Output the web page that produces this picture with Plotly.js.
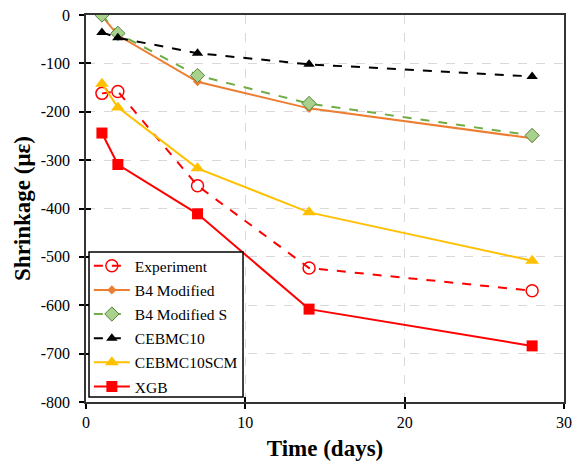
<!DOCTYPE html>
<html><head><meta charset="utf-8">
<script src="https://cdn.plot.ly/plotly-3.0.1.min.js"></script>
<style>html,body{margin:0;padding:0;background:#fff}</style>
</head><body>
<div id="chart" style="width:587px;height:473px"></div>
<script>
const days = [1, 2, 7, 14, 28];
const experiment = [-162, -158, -353, -523, -570];
const b4Modified = [-2, -42, -138, -193, -255];
const b4ModifiedS = [0, -38, -125, -183, -249];
const cebmc10 = [-36, -47, -79, -102, -127];
const cebmc10scm = [-142, -191, -317, -408, -508];
const xgb = [-244, -309, -411, -608, -684];
const yTickVals = [0, -100, -200, -300, -400, -500, -600, -700, -800];
const yTickLabels = ['0', '-100', '-200', '-300', '-400', '-500', '-600', '-700', '-800'];
const xTickVals = [0, 10, 20, 30];
const xTickLabels = ['0', '10', '20', '30'];

const traces = [
  {x: days, y: experiment, name: 'Experiment', legendgroup: 'a', mode: 'lines+markers',
   line: {color: '#FF0000', width: 2, dash: 'dash'},
   marker: {symbol: 'circle-open', size: 12, color: '#FF0000', line: {width: 1.5}}},
  {x: days, y: b4Modified, name: 'B4 Modified', legendgroup: 'b', mode: 'lines+markers',
   line: {color: '#ED7D31', width: 2},
   marker: {symbol: 'diamond', size: 7, color: '#ED7D31'}},
  {x: days, y: b4ModifiedS, name: 'B4 Modified S', legendgroup: 'c', mode: 'lines+markers',
   line: {color: '#70AD47', width: 2, dash: 'dash'},
   marker: {symbol: 'diamond', size: 11, color: '#A9D18E', line: {color: '#548235', width: 1}}},
  {x: days, y: cebmc10, name: 'CEBMC10', legendgroup: 'd', mode: 'lines+markers',
   line: {color: '#000000', width: 2, dash: 'dash'},
   marker: {symbol: 'triangle-up', size: 10, color: '#000000'}},
  {x: days, y: cebmc10scm, name: 'CEBMC10SCM', legendgroup: 'e', mode: 'lines+markers',
   line: {color: '#FFC000', width: 2},
   marker: {symbol: 'triangle-up', size: 12, color: '#FFC000'}},
  {x: days, y: xgb, name: 'XGB', legendgroup: 'f', mode: 'lines+markers',
   line: {color: '#FF0000', width: 2},
   marker: {symbol: 'square', size: 11, color: '#FF0000'}},
  {x: [], y: [], xaxis: 'x2', yaxis: 'y2', showlegend: false, hoverinfo: 'skip'}
];

const font = 'Liberation Serif, Times New Roman, serif';
const layout = {
  width: 587, height: 473,
  margin: {l: 86, r: 23, t: 15, b: 71},
  paper_bgcolor: '#fff', plot_bgcolor: '#fff',
  font: {family: font, size: 16, color: '#000'},
  showlegend: true,
  legend: {x: 0.006, y: -0.003, xanchor: 'left', yanchor: 'bottom',
    bgcolor: 'rgba(0,0,0,0)', borderwidth: 0,
    font: {family: font, size: 15.5, color: '#000'}, tracegroupgap: 1,
    itemwidth: 36},
  shapes: [{type: 'rect', xref: 'paper', yref: 'paper', x0: 0.0063, x1: 0.3285, y0: 0.0129, y1: 0.3876,
    fillcolor: '#fff', line: {color: '#000', width: 1.5}, layer: 'above'}],
  xaxis: {range: [0, 30], tickvals: xTickVals, ticktext: xTickLabels,
    showgrid: true, gridcolor: '#d9d9d9', griddash: 'dash',
    zeroline: false, showline: true, linecolor: '#333', linewidth: 1.5, mirror: true,
    ticks: 'outside', ticklen: 5, tickcolor: '#000', tickwidth: 1.5,
    tickfont: {family: font, size: 16},
    title: {text: '<b>Time (days)</b>', font: {family: font, size: 23}, standoff: 10}},
  yaxis: {range: [-800, 0], tickvals: yTickVals, ticktext: yTickLabels,
    showgrid: true, gridcolor: '#d9d9d9', griddash: 'dash',
    zeroline: false, showline: true, linecolor: '#333', linewidth: 1.5, mirror: true,
    ticks: 'outside', ticklen: 5, tickcolor: '#000', tickwidth: 1.5,
    ticklabelstandoff: 6,
    tickfont: {family: font, size: 16},
    title: {text: '<b>Shrinkage (με)</b>', font: {family: font, size: 23}, standoff: 4}},
  xaxis2: {range: [0, 30], overlaying: 'x', tickvals: xTickVals, showticklabels: false,
    showgrid: false, zeroline: false, ticks: 'inside', ticklen: 5, tickcolor: '#000', tickwidth: 1.5,
    anchor: 'y2', side: 'bottom'},
  yaxis2: {range: [-800, 0], overlaying: 'y', tickvals: yTickVals, showticklabels: false,
    showgrid: false, zeroline: false, ticks: 'inside', ticklen: 5, tickcolor: '#000', tickwidth: 1.5,
    anchor: 'x2', side: 'left'}
};
Plotly.newPlot('chart', traces, layout, {displayModeBar: false});
</script>
</body></html>
